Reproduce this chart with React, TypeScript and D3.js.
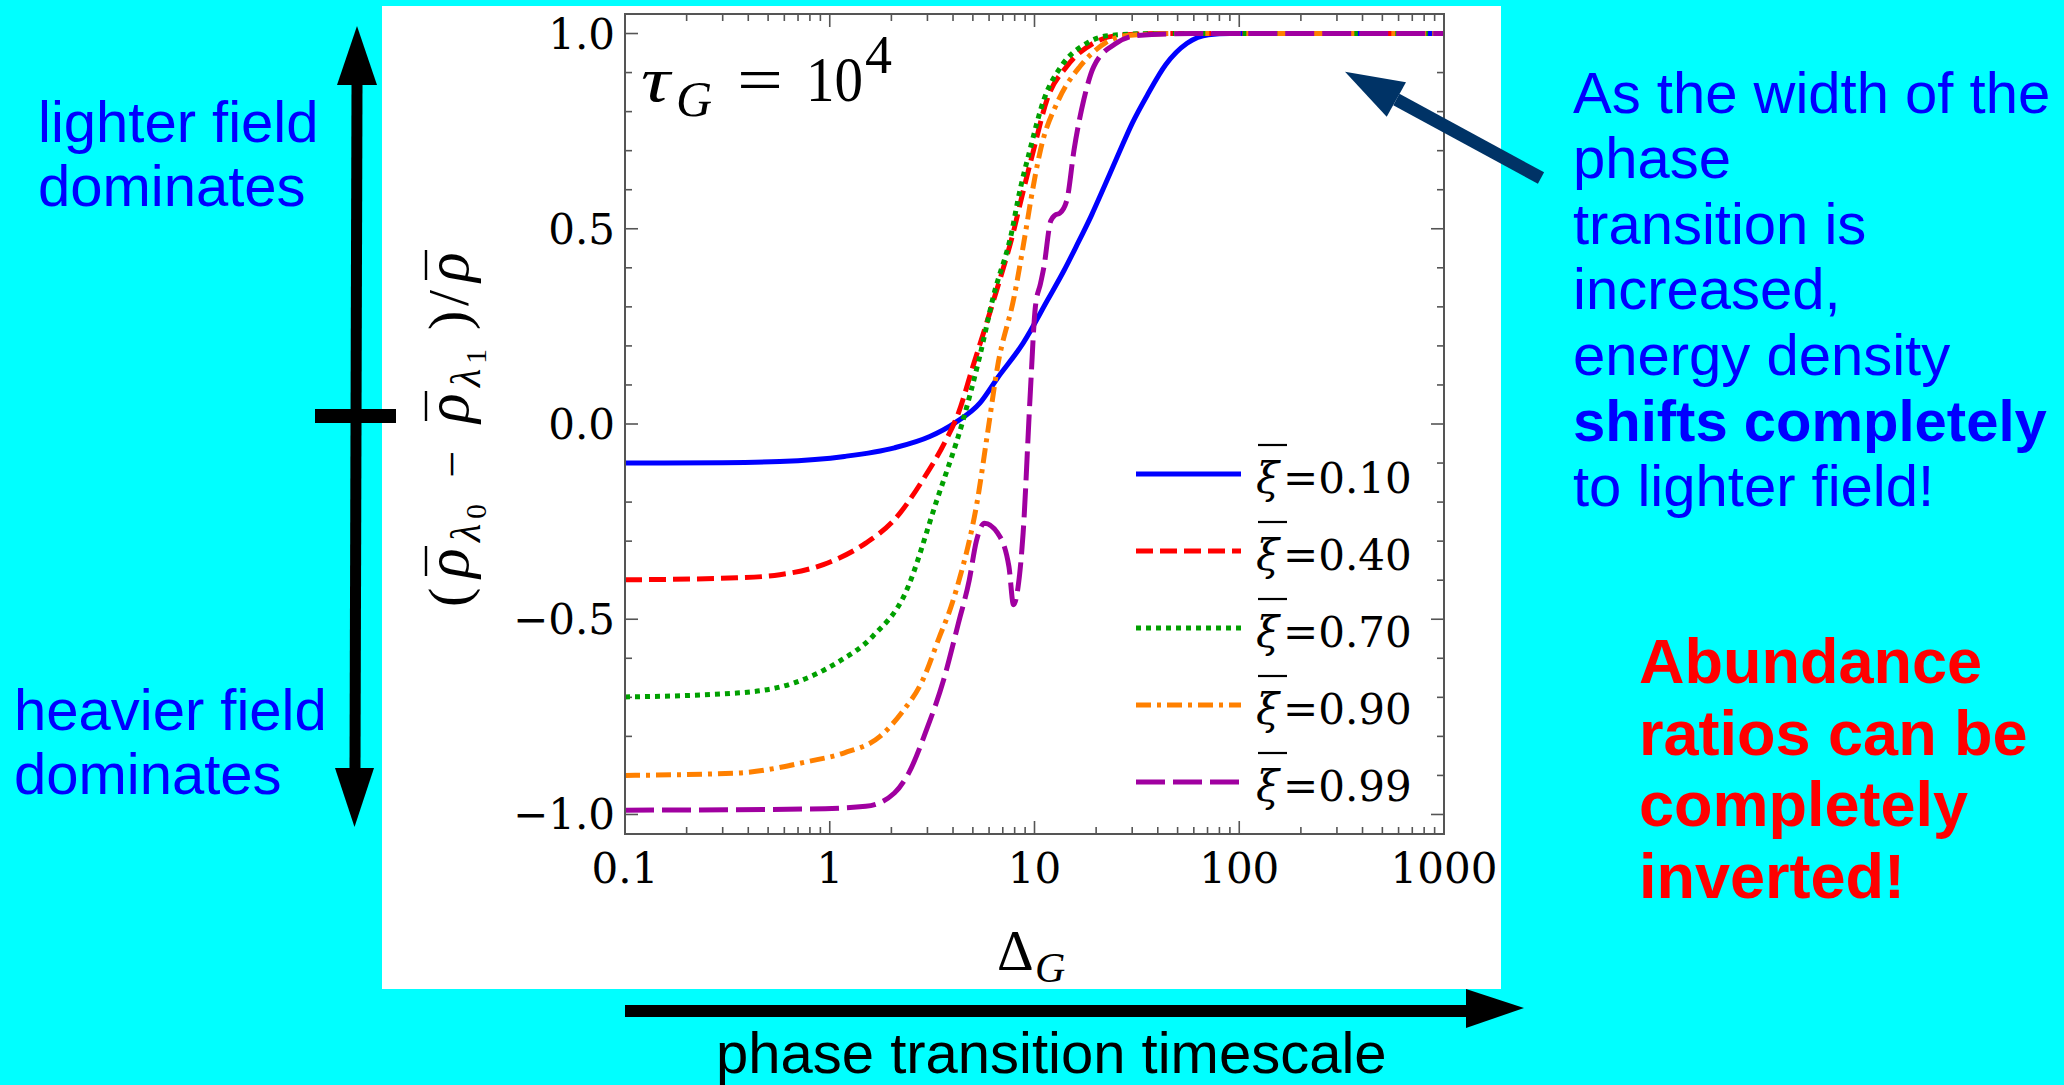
import React from "react";
import * as d3 from "d3";

// ---------- data ----------
const seriesLabels = ["0.10", "0.40", "0.70", "0.90", "0.99"];

const blueX = [0.1, 0.3, 0.57, 1.18, 2.07, 3.08, 4.09, 5.42, 6.6, 8.8, 11.6, 14, 16, 19, 22, 25.9, 30, 35.8, 43.7, 55.6, 70.8, 90, 1000];
const blueY = [-0.1, -0.099, -0.096, -0.083, -0.061, -0.032, 0.003, 0.054, 0.118, 0.207, 0.318, 0.395, 0.455, 0.535, 0.61, 0.695, 0.77, 0.845, 0.92, 0.975, 0.997, 1.0, 1.0];

const redX = [0.1, 0.352, 0.57, 0.93, 1.5, 2.07, 2.85, 3.63, 4.25, 5.0, 6.4, 7.96, 8.6, 9.9, 11.5, 14.4, 19.5, 25.2, 40, 1000];
const redY = [-0.399, -0.394, -0.386, -0.36, -0.305, -0.245, -0.143, -0.049, 0.028, 0.147, 0.327, 0.5, 0.574, 0.702, 0.83, 0.916, 0.976, 0.995, 1.0, 1.0];

const greenX = [0.1, 0.352, 0.67, 1.08, 1.62, 2.34, 3.34, 4.44, 5.4, 6.3, 7.8, 8.3, 9.5, 11.1, 13.5, 18.1, 23.2, 40, 1000];
const greenY = [-0.699, -0.689, -0.663, -0.612, -0.544, -0.433, -0.194, 0.003, 0.173, 0.327, 0.5, 0.574, 0.702, 0.83, 0.916, 0.976, 0.995, 1.0, 1.0];

const orangeX = [0.1, 0.352, 0.79, 1.18, 1.76, 2.24, 2.85, 3.44, 3.9, 4.44, 4.8, 5.2, 5.9, 6.6, 7.96, 9.1, 9.6, 10.7, 13.1, 16.7, 22.2, 28.5, 50, 1000];
const orangeY = [-0.9, -0.894, -0.864, -0.842, -0.8, -0.74, -0.655, -0.544, -0.47, -0.37, -0.3, -0.211, -0.023, 0.147, 0.327, 0.5, 0.574, 0.702, 0.83, 0.916, 0.976, 0.995, 1.0, 1.0];

const purpleX = [0.1, 0.79, 1.5, 2.07, 2.43, 2.97, 3.6, 4.25, 4.8, 5.2, 5.7, 6.6, 7.5, 7.9, 8.3, 8.8, 9.5, 10.1, 10.7, 11.1, 12.0, 12.6, 13.3, 14.4, 15.6, 17.4, 19.5, 25.2, 31.6, 60, 1000];
const purpleY = [-0.989, -0.986, -0.979, -0.945, -0.894, -0.783, -0.655, -0.51, -0.4, -0.3, -0.254, -0.279, -0.365, -0.463, -0.42, -0.279, 0.062, 0.3, 0.36, 0.4, 0.52, 0.535, 0.54, 0.574, 0.702, 0.83, 0.916, 0.976, 0.995, 1.0, 1.0];

const seriesColors = ["#0000ff", "#ff0000", "#00a000", "#ff8000", "#a000a0"];
const seriesDash = ["", "17 7", "5 5", "15 6 4 6", "29 8"];

const yTickLabels = ["1.0", "0.5", "0.0", "−0.5", "−1.0"];
const yTickValues = [1, 0.5, 0, -0.5, -1];
const xTickValues = [0.1, 1, 10, 100, 1000];
const xTickLabels = ["0.1", "1", "10", "100", "1000"];

const rightText = [
  { t: "As the width of the", b: false },
  { t: "phase", b: false },
  { t: "transition is", b: false },
  { t: "increased,", b: false },
  { t: "energy density", b: false },
  { t: "shifts completely", b: true },
  { t: "to lighter field!", b: false },
];
const redText = ["Abundance", "ratios can be", "completely", "inverted!"];

// ---------- layout ----------
const W = 2064, H = 1085;
const PL = 625, PR = 1444, PT = 14, PB = 834;

export default function App() {
  const x = d3.scaleLog().domain([0.1, 1000]).range([PL, PR]);
  const y = d3.scaleLinear().domain([-1.05, 1.05]).range([PB, PT]);
  const line = d3
    .line<[number, number]>()
    .x((d) => x(d[0]))
    .y((d) => y(d[1]))
    .curve(d3.curveMonotoneX);

  const series = [
    [blueX, blueY],
    [redX, redY],
    [greenX, greenY],
    [orangeX, orangeY],
    [purpleX, purpleY],
  ].map(([xs, ys]) => xs.map((v, i) => [v, ys[i]] as [number, number]));

  const yMinor = d3.range(-10, 11).map((i) => i / 10);
  const xMinor: number[] = [];
  for (let e = -1; e < 3; e++) for (let k = 2; k <= 9; k++) xMinor.push(k * Math.pow(10, e));

  const serif = "'DejaVu Serif', serif";
  const tserif = "'Liberation Serif', 'Times New Roman', serif";
  const sans = "'Liberation Sans', Arial, sans-serif";

  const legendY = [474, 551, 628, 705, 782];

  // diagonal arrow geometry
  const tip = [1345, 71.7];
  const w1 = [1406, 82.3];
  const w2 = [1386.7, 116.7];
  const baseC = [(w1[0] + w2[0]) / 2, (w1[1] + w2[1]) / 2];
  const tail = [1541, 178];

  const yl = 468;

  return (
    <svg
      width={W}
      height={H}
      viewBox={`0 0 ${W} ${H}`}
      style={{ position: "fixed", left: 0, top: 0 }}
    >
      <rect x={0} y={0} width={W} height={H} fill="#00ffff" />
      <rect x={382} y={6} width={1119} height={983} fill="#ffffff" />

      <defs>
        <clipPath id="plotclip">
          <rect x={PL} y={PT} width={PR - PL} height={PB - PT} />
        </clipPath>
      </defs>

      {/* ticks */}
      <g stroke="#555" strokeWidth={1.6}>
        {yMinor.map((v) => {
          const major = Math.abs(v * 2 - Math.round(v * 2)) < 1e-6;
          const len = major ? 13 : 7;
          return (
            <g key={"yt" + v}>
              <line x1={PL} x2={PL + len} y1={y(v)} y2={y(v)} />
              <line x1={PR} x2={PR - len} y1={y(v)} y2={y(v)} />
            </g>
          );
        })}
        {xTickValues.map((v) => (
          <g key={"xt" + v}>
            <line x1={x(v)} x2={x(v)} y1={PB} y2={PB - 13} />
            <line x1={x(v)} x2={x(v)} y1={PT} y2={PT + 13} />
          </g>
        ))}
        {xMinor.map((v) => (
          <g key={"xm" + v}>
            <line x1={x(v)} x2={x(v)} y1={PB} y2={PB - 7} />
            <line x1={x(v)} x2={x(v)} y1={PT} y2={PT + 7} />
          </g>
        ))}
      </g>

      {/* curves */}
      <g clipPath="url(#plotclip)" fill="none">
        {series.map((s, i) => (
          <path
            key={"s" + i}
            d={line(s) || ""}
            stroke={seriesColors[i]}
            strokeWidth={5}
            strokeDasharray={seriesDash[i] || undefined}
          />
        ))}
      </g>

      {/* frame */}
      <rect x={PL} y={PT} width={PR - PL} height={PB - PT} fill="none" stroke="#555" strokeWidth={2} />

      {/* tick labels */}
      <g fontFamily={serif} fontSize={42} fill="#000">
        {yTickValues.map((v, i) => (
          <text key={"yl" + i} x={615} y={y(v) + 15} textAnchor="end">
            {yTickLabels[i]}
          </text>
        ))}
        {xTickValues.map((v, i) => (
          <text key={"xl" + i} x={x(v)} y={883} textAnchor="middle">
            {xTickLabels[i]}
          </text>
        ))}
      </g>

      {/* legend */}
      {seriesLabels.map((lab, i) => (
        <g key={"lg" + i}>
          <line
            x1={1136}
            x2={1241}
            y1={legendY[i]}
            y2={legendY[i]}
            stroke={seriesColors[i]}
            strokeWidth={5}
            strokeDasharray={seriesDash[i] || undefined}
          />
          <line x1={1258} x2={1287} y1={legendY[i] - 29} y2={legendY[i] - 29} stroke="#000" strokeWidth={2.2} />
          <text y={legendY[i] + 19} fontFamily={serif} fontSize={42}>
            <tspan x={1256} fontStyle="italic">ξ</tspan>
            <tspan x={1283}>{"=" + lab}</tspan>
          </text>
        </g>
      ))}

      {/* title tau_G = 10^4 */}
      <text fontFamily={tserif} fill="#000" fontSize={64}>
        <tspan x={641} y={101} fontStyle="italic" textLength={29} lengthAdjust="spacingAndGlyphs">τ</tspan>
        <tspan x={676} y={116} fontSize={50} fontStyle="italic">G</tspan>
        <tspan x={737} y={101} textLength={46} lengthAdjust="spacingAndGlyphs">=</tspan>
        <tspan x={806} y={101} textLength={57} lengthAdjust="spacingAndGlyphs">10</tspan>
        <tspan x={865} y={73} fontSize={54}>4</tspan>
      </text>

      {/* x-axis label Delta_G */}
      <text fontFamily={tserif} fill="#000">
        <tspan x={997} y={970} fontSize={57}>Δ</tspan>
        <tspan x={1035} y={982} fontSize={42} fontStyle="italic">G</tspan>
      </text>

      {/* y-axis label */}
      <g transform={`translate(${yl},0) rotate(-90)`} fill="#000">
        <text fontFamily={tserif}>
          <tspan x={-607} y={0} fontSize={58}>(</tspan>
          <tspan x={-578} y={0} fontSize={62} fontStyle="italic">ρ</tspan>
          <tspan x={-542} y={12} fontSize={42} fontStyle="italic">λ</tspan>
          <tspan x={-519} y={18} fontSize={30}>0</tspan>
          <tspan x={-478} y={0} fontSize={48}>−</tspan>
          <tspan x={-423} y={0} fontSize={62} fontStyle="italic">ρ</tspan>
          <tspan x={-387} y={12} fontSize={42} fontStyle="italic">λ</tspan>
          <tspan x={-364} y={18} fontSize={30}>1</tspan>
          <tspan x={-330} y={0} fontSize={58}>)</tspan>
          <tspan x={-306} y={0} fontSize={58}>/</tspan>
          <tspan x={-282} y={0} fontSize={62} fontStyle="italic">ρ</tspan>
        </text>
        <line x1={-576} x2={-546} y1={-42} y2={-42} stroke="#000" strokeWidth={2.4} />
        <line x1={-421} x2={-391} y1={-42} y2={-42} stroke="#000" strokeWidth={2.4} />
        <line x1={-280} x2={-250} y1={-42} y2={-42} stroke="#000" strokeWidth={2.4} />
      </g>

      {/* vertical arrow on left */}
      <g fill="#000">
        <polygon points="357,26 337,85 377,85" />
        <line x1={357} y1={84} x2={355} y2={769} stroke="#000" strokeWidth={11} />
        <polygon points="335,768 374,768 354.5,827" />
        <rect x={315} y={409} width={81} height={14} />
      </g>

      {/* horizontal arrow bottom */}
      <g fill="#000">
        <rect x={625} y={1005} width={842} height={12} />
        <polygon points="1466,989 1466,1028 1524,1008" />
      </g>

      {/* diagonal arrow */}
      <g fill="#003366">
        <line x1={tail[0]} y1={tail[1]} x2={baseC[0]} y2={baseC[1]} stroke="#003366" strokeWidth={13} />
        <polygon points={`${tip[0]},${tip[1]} ${w1[0]},${w1[1]} ${w2[0]},${w2[1]}`} />
      </g>

      {/* left annotations */}
      <g fontFamily={sans} fontSize={58} fill="#0000ff">
        <text x={38} y={142}>lighter field</text>
        <text x={38} y={206}>dominates</text>
        <text x={14} y={730}>heavier field</text>
        <text x={14} y={794}>dominates</text>
      </g>

      {/* right annotations */}
      <g fontFamily={sans} fontSize={58} fill="#0000ff">
        {rightText.map((l, i) => (
          <text key={"rt" + i} x={1573} y={112.5 + i * 65.6} fontWeight={l.b ? "bold" : "normal"}>
            {l.t}
          </text>
        ))}
      </g>
      <g fontFamily={sans} fontSize={63} fontWeight="bold" fill="#ff0000">
        {redText.map((t, i) => (
          <text key={"red" + i} x={1639} y={683 + i * 71.5}>
            {t}
          </text>
        ))}
      </g>

      {/* bottom caption */}
      <text x={716} y={1073} fontFamily={sans} fontSize={58} fill="#000">
        phase transition timescale
      </text>
    </svg>
  );
}
